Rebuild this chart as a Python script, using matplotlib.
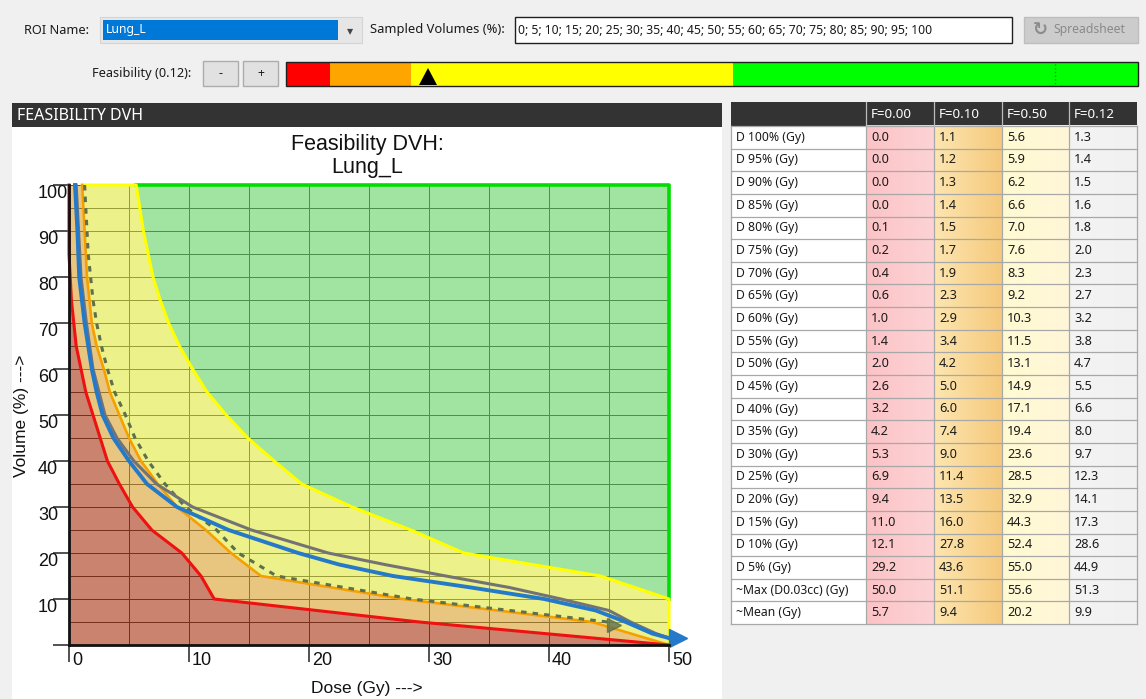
import matplotlib
matplotlib.use("Agg")
import matplotlib.pyplot as plt
import numpy as np
from matplotlib.patches import Rectangle, Polygon
from matplotlib.transforms import ScaledTranslation

plt.rcParams['font.family'] = ['Liberation Sans', 'DejaVu Sans']

W, H = 1146, 699

# Datos
sampled_volumes = [0, 5, 10, 15, 20, 25, 30, 35, 40, 45, 50, 55, 60, 65, 70, 75, 80, 85, 90, 95, 100]
row_volumes = [100, 95, 90, 85, 80, 75, 70, 65, 60, 55, 50, 45, 40, 35, 30, 25, 20, 15, 10, 5]
f_labels = ['F=0.00', 'F=0.10', 'F=0.50', 'F=0.12']
current_f = 0.12

dose_f000 = [0.0, 0.0, 0.0, 0.0, 0.1, 0.2, 0.4, 0.6, 1.0, 1.4, 2.0, 2.6, 3.2, 4.2, 5.3, 6.9, 9.4, 11.0, 12.1, 29.2]
dose_f010 = [1.1, 1.2, 1.3, 1.4, 1.5, 1.7, 1.9, 2.3, 2.9, 3.4, 4.2, 5.0, 6.0, 7.4, 9.0, 11.4, 13.5, 16.0, 27.8, 43.6]
dose_f050 = [5.6, 5.9, 6.2, 6.6, 7.0, 7.6, 8.3, 9.2, 10.3, 11.5, 13.1, 14.9, 17.1, 19.4, 23.6, 28.5, 32.9, 44.3, 52.4, 55.0]
dose_f012 = [1.3, 1.4, 1.5, 1.6, 1.8, 2.0, 2.3, 2.7, 3.2, 3.8, 4.7, 5.5, 6.6, 8.0, 9.7, 12.3, 14.1, 17.3, 28.6, 44.9]
max_dose = [50.0, 51.1, 55.6, 51.3]
mean_dose = [5.7, 9.4, 20.2, 9.9]

# DVH del plan (azul) y de referencia (gris)
plan_vol = [100, 90, 80, 70, 60, 55, 50, 45, 40, 35, 30, 25, 20, 17.5, 15, 12.5, 10, 7.5, 5, 2.5, 1.5]
blue_dose = [0.5, 0.7, 0.85, 1.3, 1.9, 2.3, 2.8, 3.7, 5.0, 6.5, 9.0, 13.3, 19.1, 22.5, 27.0, 33.5, 39.6, 43.9, 46.4, 48.6, 50.0]
grey_dose = [0.6, 0.8, 1.0, 1.45, 2.0, 2.5, 3.0, 4.0, 5.4, 7.3, 10.3, 15.2, 21.6, 26.3, 31.4, 36.7, 41.0, 45.0, 46.8, 48.9, 50.0]

dose_limit = 50
x_ticks = [0, 10, 20, 30, 40, 50]
y_ticks = [0, 10, 20, 30, 40, 50, 60, 70, 80, 90, 100]

fig = plt.figure(figsize=(W / 100, H / 100), dpi=100, facecolor='#f0f0f0')

# Fondo de la interfaz (coordenadas en pixeles)
bg = fig.add_axes([0, 0, 1, 1])
bg.set_xlim(0, W)
bg.set_ylim(H, 0)
bg.axis('off')
bg.set_autoscale_on(False)

ui = dict(family=['Noto Sans', 'DejaVu Sans'], fontsize=8.8, color='#1a1a1a', va='center')

# Fila superior
bg.text(24, 30, 'ROI Name:', **{**ui, 'fontsize': 9.2})
bg.add_patch(Rectangle((100, 17), 262, 26, fc='#e6e6e6', ec='#d4d4d4', lw=0.8))
bg.add_patch(Rectangle((103, 20), 235, 20, fc='#0078d7', ec='none'))
bg.text(106, 30, 'Lung_L', **{**ui, 'color': 'white'})
bg.text(350, 31, '\u25be', ha='center', **{**ui, 'family': ['DejaVu Sans'], 'color': '#444444'})
bg.text(370, 30, 'Sampled Volumes (%):', **{**ui, 'fontsize': 9.3})
bg.add_patch(Rectangle((515, 17), 497, 26, fc='white', ec='#202020', lw=1))
bg.text(518, 30, '; '.join(str(v) for v in sampled_volumes), **ui)
bg.add_patch(Rectangle((1024, 17), 114, 26, fc='#cccccc', ec='#bdbdbd', lw=1))
bg.text(1040, 30, '\u21bb', ha='center', fontsize=13, fontweight='bold', color='#8c8c8c', va='center', family=['DejaVu Sans'])
bg.text(1053, 30, 'Spreadsheet', **{**ui, 'color': '#8a8a8a'})

# Fila de factibilidad
bg.text(191, 74, f'Feasibility ({current_f:.2f}):', ha='right', **{**ui, 'fontsize': 9.2})
for x0, s in [(203, '-'), (243, '+')]:
    bg.add_patch(Rectangle((x0, 61), 35, 25, fc='#e1e1e1', ec='#adadad', lw=1))
    bg.text(x0 + 17.5, 73.5, s, ha='center', **ui)
bar_edges = [286, 330, 411, 733, 1138]
bar_colors = ['#ff0000', '#ffa500', '#ffff00', '#00ff00']
for i, c in enumerate(bar_colors):
    bg.add_patch(Rectangle((bar_edges[i], 62), bar_edges[i + 1] - bar_edges[i], 24, fc=c, ec='none'))
bg.add_patch(Rectangle((286, 62), 852, 24, fc='none', ec='#202020', lw=1))
bg.plot([1055, 1055], [64, 84], color='#00a000', lw=1, ls=':')
bg.add_patch(Polygon([(419, 85), (437, 85), (428, 68)], closed=True, fc='black', ec='none'))

# Panel del grafico
bg.add_patch(Rectangle((12, 103), 710, 24, fc='#333333', ec='none'))
bg.text(17, 116, 'FEASIBILITY DVH', **{**ui, 'color': 'white', 'fontsize': 11.5})
bg.add_patch(Rectangle((12, 127), 710, 572, fc='white', ec='none'))
bg.text(367, 156, 'Feasibility DVH:\nLung_L', ha='center', va='center', fontsize=15.5, linespacing=1.15, color='#111111')
bg.text(22, 416, 'Volume (%) --->', rotation=90, ha='center', va='center', fontsize=12.5, color='#111111')
bg.text(367, 689, 'Dose (Gy) --->', ha='center', va='center', fontsize=12.5, color='#111111')

# Tabla
col_x = [731, 866, 934, 1002, 1069, 1137]
head_top, head_bot = 102, 126
row_h = 22.64
row_labels = [f'D {v}% (Gy)' for v in row_volumes] + ['~Max (D0.03cc) (Gy)', '~Mean (Gy)']
table_cols = [dose_f000 + [max_dose[0], mean_dose[0]],
              dose_f010 + [max_dose[1], mean_dose[1]],
              dose_f050 + [max_dose[2], mean_dose[2]],
              dose_f012 + [max_dose[3], mean_dose[3]]]
n_rows = len(row_labels)
table_bot = head_bot + n_rows * row_h
grad = [('#fcc3c6', '#fdd3d5'), ('#fde6b0', '#f5c97c'), ('#fffbd2', '#fff6d8'), ('#f4f4f4', '#f1f1f1')]

bg.add_patch(Rectangle((col_x[0], head_top), col_x[-1] - col_x[0], head_bot - head_top, fc='#333333', ec='none'))
bg.add_patch(Rectangle((col_x[0], head_bot), col_x[1] - col_x[0], table_bot - head_bot, fc='white', ec='none'))
for j, (c0, c1) in enumerate(grad):
    a = np.array(matplotlib.colors.to_rgb(c0))
    b = np.array(matplotlib.colors.to_rgb(c1))
    t = np.linspace(0, 1, 64)[:, None]
    img = (a + (b - a) * t)[None, :, :]
    bg.imshow(img, extent=(col_x[j + 1], col_x[j + 2], table_bot, head_bot), aspect='auto', zorder=1)
for k in range(n_rows + 1):
    y = head_bot + k * row_h
    bg.plot([col_x[0], col_x[-1]], [y, y], color='#a8a8a8', lw=0.9, zorder=2)
for j, x in enumerate(col_x):
    bg.plot([x, x], [head_bot, table_bot], color='#a8a8a8', lw=0.9, zorder=2)
    if 0 < j < len(col_x) - 1:
        bg.plot([x, x], [head_top, head_bot], color='#bbbbbb', lw=0.9, zorder=2)
for j, lab in enumerate(f_labels):
    bg.text(col_x[j + 1] + 5, (head_top + head_bot) / 2, lab, zorder=3, **{**ui, 'color': 'white', 'fontsize': 9.6})
for i, lab in enumerate(row_labels):
    yc = head_bot + (i + 0.5) * row_h
    bg.text(col_x[0] + 5, yc, lab, zorder=3, **ui)
    for j, col in enumerate(table_cols):
        bg.text(col_x[j + 1] + 5, yc, f'{col[i]:.1f}', zorder=3, **{**ui, 'fontsize': 9.2})

# Grafico DVH
ax = fig.add_axes([69 / W, 1 - 645 / H, 600 / W, 460 / H])
ax.set_facecolor('none')
ax.set_xlim(0, dose_limit)
ax.set_ylim(0, 100)

vol_curve = np.array(row_volumes + [0], dtype=float)


def band(doses, mx):
    return np.minimum(np.array(doses + [mx], dtype=float), dose_limit)


red_x = band(dose_f000, max_dose[0])
orange_x = band(dose_f010, max_dose[1])
yellow_x = band(dose_f050, max_dose[2])

ax.fill_betweenx(vol_curve, yellow_x, dose_limit, color='#62d263', alpha=0.6, lw=0, zorder=1)
ax.fill_betweenx(vol_curve, orange_x, yellow_x, color='#e0e83c', alpha=0.6, lw=0, zorder=1)
ax.fill_betweenx(vol_curve, red_x, orange_x, color='#dba02c', alpha=0.6, lw=0, zorder=1)
ax.fill_betweenx(vol_curve, 0, red_x, color='#a83010', alpha=0.6, lw=0, zorder=1)

ax.set_xticks(x_ticks, labels=[str(v) for v in x_ticks])
ax.set_yticks(y_ticks, labels=['' if v == 0 else str(v) for v in y_ticks])
ax.set_xticks(np.array(x_ticks[:-1]) + 5, minor=True)
ax.set_yticks(np.array(y_ticks[:-1]) + 5, minor=True)
ax.set_axisbelow(True)
ax.grid(which='both', color='#2a2a2a', lw=0.7)

hit_vol = vol_curve[np.argmax(yellow_x >= dose_limit)]
ax.plot([yellow_x[0], dose_limit, dose_limit], [100, 100, hit_vol], color='#00dd00', lw=2.6, clip_on=False, zorder=2)
ax.plot(np.r_[orange_x[0], yellow_x], np.r_[100, vol_curve], color='#ffff00', lw=2.2, clip_on=False, zorder=2.1)
ax.plot(orange_x, vol_curve, color='#f5a000', lw=1.9, clip_on=False, zorder=2.2)
ax.plot(red_x, vol_curve, color='#ee1111', lw=2.2, clip_on=False, zorder=2.3)

ax.plot(dose_f012, row_volumes, color='#5f6f4d', lw=2.2, dashes=(1.8, 2.0), zorder=3)
shift_d = ax.transData + ScaledTranslation(6 / 100, -3 / 100, fig.dpi_scale_trans)
ax.plot(dose_f012[-1:], row_volumes[-1:], marker='>', ms=10, color='#5f6f4d', alpha=0.8, ls='none', transform=shift_d, zorder=3)

ax.plot(grey_dose, plan_vol, color='#737373', lw=2.2, clip_on=False, zorder=3.1)
ax.plot(blue_dose, plan_vol, color='#2479c9', lw=2.8, clip_on=False, zorder=3.2)
shift_b = ax.transData + ScaledTranslation(9 / 100, 0, fig.dpi_scale_trans)
ax.plot(blue_dose[-1:], plan_vol[-1:], marker='>', ms=13, color='#2479c9', ls='none', transform=shift_b, clip_on=False, zorder=3.3)

for s in ['top', 'right']:
    ax.spines[s].set_visible(False)
for s in ['left', 'bottom']:
    ax.spines[s].set_linewidth(2)
    ax.spines[s].set_color('#111111')
    ax.spines[s].set_zorder(5)

ax.tick_params(which='major', direction='out', width=1.1, color='#222222', labelsize=13, labelcolor='#111111')
ax.tick_params(axis='y', which='major', length=11.5, pad=10.8)
ax.tick_params(axis='x', which='major', length=12.2, pad=-7.0)
ax.tick_params(which='minor', length=0)
for lbl in ax.get_yticklabels():
    lbl.set_ha('left')
    lbl.set_va('top')
for lbl in ax.get_xticklabels():
    lbl.set_ha('left')
    lbl.set_va('top')
    lbl.set_transform(lbl.get_transform() + ScaledTranslation(3 / 100, 0, fig.dpi_scale_trans))

fig.savefig('out.png', dpi=100, facecolor=fig.get_facecolor())
